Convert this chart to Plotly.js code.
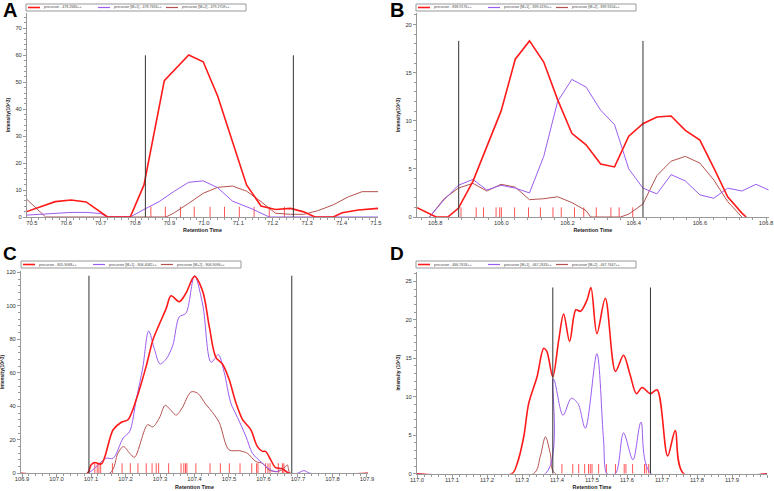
<!DOCTYPE html>
<html><head><meta charset="utf-8">
<script src="https://cdn.plot.ly/plotly-3.0.1.min.js"></script>
<style>html,body{margin:0;padding:0;background:#fff}#chart{width:774px;height:491px}</style>
</head><body><div id="chart"></div>
<script>
// ---------- Panel A ----------
const aNames = ["precursor - 478.2680++", "precursor [M+1] - 478.7694++", "precursor [M+2] - 479.2709++"];
const aPrecX = [70.485, 70.568, 70.614, 70.658, 70.72, 70.786, 70.826, 70.885, 70.956, 70.998, 71.04, 71.083, 71.124, 71.166, 71.208, 71.252, 71.29, 71.323, 71.376, 71.402, 71.449, 71.506];
const aPrecY = [2.0, 5.7, 6.3, 5.6, 0, 0, 11.9, 50.6, 60.1, 57.6, 44.9, 27.7, 11.9, 4.1, 2.8, 3.2, 1.9, 0, 0, 1.6, 2.6, 3.2];
const aM1X = [70.485, 70.568, 70.614, 70.658, 70.70, 70.72, 70.786, 70.826, 70.87, 70.912, 70.956, 70.998, 71.04, 71.083, 71.14, 71.19, 71.506];
const aM1Y = [0.7, 1.4, 1.7, 1.7, 1.3, 0, 0, 2.8, 5.7, 9.4, 12.9, 13.4, 10.9, 5.9, 3.0, 0, 0];
const aM2X = [70.485, 70.54, 70.89, 70.912, 70.956, 70.998, 71.04, 71.083, 71.124, 71.166, 71.208, 71.252, 71.29, 71.33, 71.376, 71.42, 71.46, 71.506];
const aM2Y = [6.6, 0, 0, 1.4, 5.1, 8.8, 11.0, 11.5, 9.6, 5.7, 1.4, 1.0, 1.0, 2.3, 4.5, 7.5, 9.4, 9.4];
const aBounds = [70.83, 71.26];
const aBoundTop = 60;
const aScans = [70.846, 70.888, 70.932, 70.972, 71.018, 71.06, 71.103, 71.146, 71.19, 71.234];
const aScanH = 3.8;

// ---------- Panel B ----------
const bNames = ["precursor - 838.9176++", "precursor [M+1] - 839.4190++", "precursor [M+2] - 839.9204++"];
const bPrecX = [105.745, 105.803, 105.838, 105.87, 105.914, 105.956, 105.999, 106.042, 106.085, 106.128, 106.17, 106.213, 106.256, 106.3, 106.342, 106.385, 106.428, 106.47, 106.513, 106.556, 106.6, 106.642, 106.684, 106.727, 106.74];
const bPrecY = [0.97, 0, 0, 0.9, 3.7, 7.3, 11.0, 16.4, 18.3, 16.1, 12.2, 8.7, 7.5, 5.5, 5.2, 8.4, 9.7, 10.4, 10.5, 9.0, 8.0, 5.1, 2.1, 0.4, 0];
const bM1X = [105.783, 105.827, 105.87, 105.914, 105.956, 105.999, 106.042, 106.085, 106.128, 106.17, 106.213, 106.256, 106.3, 106.342, 106.385, 106.428, 106.47, 106.513, 106.556, 106.6, 106.642, 106.684, 106.727, 106.77, 106.808];
const bM1Y = [0, 1.8, 3.3, 3.9, 2.8, 3.3, 3.0, 2.5, 6.3, 12.0, 14.3, 13.5, 11.1, 9.6, 5.0, 3.0, 2.4, 4.4, 3.75, 2.3, 1.95, 3.0, 2.7, 3.4, 2.8];
const bM2X = [105.783, 105.827, 105.87, 105.914, 105.956, 105.999, 106.042, 106.085, 106.128, 106.17, 106.213, 106.256, 106.27, 106.36, 106.385, 106.428, 106.47, 106.513, 106.556, 106.6, 106.642, 106.684, 106.727];
const bM2Y = [0, 1.9, 3.0, 3.5, 2.7, 3.4, 3.1, 1.8, 1.9, 2.1, 1.5, 0.66, 0, 0, 0.3, 1.35, 4.3, 5.8, 6.3, 5.6, 3.85, 1.6, 0];
const bBounds = [105.871, 106.428];
const bBoundTop = 18.3;
const bScans = [105.878, 105.924, 105.946, 105.984, 105.995, 106.0, 106.04, 106.082, 106.118, 106.156, 106.181, 106.221, 106.249, 106.287, 106.331, 106.356, 106.397];
const bScanH = 1.0;

// ---------- Panel C ----------
const cNames = ["precursor - 805.9068++", "precursor [M+1] - 806.4082++", "precursor [M+2] - 806.9096++"];
const cPrecX = [106.897, 107.089, 107.1, 107.111, 107.13, 107.164, 107.188, 107.207, 107.231, 107.26, 107.28, 107.298, 107.318, 107.332, 107.356, 107.375, 107.4, 107.424, 107.443, 107.462, 107.481, 107.5, 107.52, 107.539, 107.563, 107.582, 107.597, 107.606, 107.621, 107.635, 107.654, 107.674, 107.903];
const cPrecY = [0, 0, 5, 6.4, 5.6, 26, 30.5, 32, 44, 64, 80, 89, 98.5, 106, 102.5, 107.5, 117.6, 108.5, 87.4, 69.3, 65.3, 56.3, 42.2, 32.2, 26.1, 16.1, 13.1, 13.1, 8, 3.4, 2.8, 0, 0];
const cM1X = [106.897, 107.089, 107.125, 107.143, 107.164, 107.193, 107.212, 107.231, 107.25, 107.267, 107.284, 107.3, 107.318, 107.337, 107.356, 107.375, 107.4, 107.424, 107.448, 107.469, 107.486, 107.505, 107.525, 107.549, 107.568, 107.597, 107.621, 107.64, 107.653, 107.676, 107.698, 107.717, 107.736, 107.903];
const cM1Y = [0, 0, 6, 9, 9, 21, 25, 44, 63, 85, 74, 65.3, 68.3, 76.4, 93.5, 95.5, 118, 100.5, 66.3, 70.8, 60.3, 42.2, 33.2, 22.1, 12, 6, 2, 1, 3, 0, 0, 1.6, 0, 0];
const cM2X = [106.897, 107.154, 107.178, 107.194, 107.212, 107.226, 107.264, 107.279, 107.298, 107.315, 107.329, 107.347, 107.364, 107.39, 107.409, 107.433, 107.453, 107.472, 107.5, 107.53, 107.553, 107.578, 107.597, 107.616, 107.635, 107.654, 107.669, 107.678, 107.903];
const cM2Y = [0, 0, 12, 16, 12, 9.6, 29, 27.7, 33, 40.6, 38.2, 34.8, 39, 48.6, 47.8, 41.2, 36.2, 30.2, 14, 13.5, 12, 7, 6, 2, 1, 2, 5, 0, 0];
const cBounds = [107.094, 107.682];
const cBoundTop = 118;
const cScans = [107.111, 107.118, 107.123, 107.128, 107.162, 107.19, 107.214, 107.236, 107.26, 107.277, 107.289, 107.296, 107.325, 107.361, 107.369, 107.374, 107.378, 107.404, 107.445, 107.475, 107.501, 107.532, 107.566, 107.58, 107.584, 107.606, 107.613, 107.619, 107.643, 107.655, 107.659];
const cScanH = 6;

// ---------- Panel D ----------
const dNames = ["precursor - 466.7618++", "precursor [M+1] - 467.2633++", "precursor [M+2] - 467.7647++"];
const dPrecX = [117.0, 117.271, 117.286, 117.305, 117.319, 117.343, 117.362, 117.371, 117.388, 117.405, 117.419, 117.436, 117.454, 117.467, 117.486, 117.497, 117.514, 117.538, 117.567, 117.59, 117.608, 117.627, 117.643, 117.667, 117.686, 117.716, 117.738, 117.762, 118.0];
const dPrecY = [0, 0, 1.3, 4.8, 9.1, 12.6, 16.3, 15.9, 12.6, 17.4, 20.75, 17.2, 21.3, 21.1, 22.6, 24.2, 18.2, 22.8, 13.3, 15.4, 13.0, 10.4, 11.2, 10.4, 10.9, 2.3, 5.6, 0, 0];
const dM1X = [117.0, 117.367, 117.39, 117.417, 117.441, 117.46, 117.481, 117.514, 117.533, 117.543, 117.567, 117.59, 117.617, 117.64, 117.669, 118.0];
const dM1Y = [0, 0, 12.3, 7.6, 9.8, 9.1, 5.9, 15.6, 4.4, 0, 0, 5.3, 1.8, 6.7, 0, 0];
const dM2X = [117.0, 117.333, 117.352, 117.367, 117.381, 117.395, 118.0];
const dM2Y = [0, 0, 2.2, 4.8, 2.6, 0, 0];
const dBounds = [117.388, 117.667];
const dBoundTop = 24.2;
const dScans = [117.414, 117.445, 117.462, 117.479, 117.49, 117.495, 117.5, 117.519, 117.541, 117.567, 117.592, 117.597, 117.616, 117.65, 117.655, 117.662];
const dScanH = 1.26;

const colors = ["#ff1a1a", "#9b5cf0", "#b5524f"];
const widths = [1.6, 1.0, 1.0];
const W = 774, H = 491;
const px = v => v / W;
const py = v => 1 - v / H;

const panels = [
  {s:"", label:"A", names:aNames, xs:[aPrecX,aM1X,aM2X], ys:[aPrecY,aM1Y,aM2Y], bounds:aBounds, top:aBoundTop, scans:aScans, sh:aScanH, shape:"linear",
   dom:[27,378], ydom:[217,13], xr:[70.486,71.506], yr:[0,75.7], xd:0.1, x0:70.5, xm:0.02, yd:10, ym:2, leg:[26,4], lab:[1,10.5,20], ytitle:"Intensity(10^3)"},
  {s:"2", label:"B", names:bNames, xs:[bPrecX,bM1X,bM2X], ys:[bPrecY,bM1Y,bM2Y], bounds:bBounds, top:bBoundTop, scans:bScans, sh:bScanH, shape:"linear",
   dom:[417,768.7], ydom:[217,13], xr:[105.745,106.808], yr:[0,21.2], xd:0.2, x0:105.8, xm:0.04, yd:5, ym:1, leg:[416,4], lab:[388,10,20], ytitle:"Intensity(10^3)"},
  {s:"3", label:"C", names:cNames, xs:[cPrecX,cM1X,cM2X], ys:[cPrecY,cM1Y,cM2Y], bounds:cBounds, top:cBoundTop, scans:cScans, sh:cScanH, shape:"spline",
   dom:[21,368], ydom:[473.3,270.7], xr:[106.897,107.903], yr:[0,121], xd:0.1, x0:106.9, xm:0.02, yd:20, ym:4, leg:[21,261], lab:[1,253.5,19], ytitle:"Intensity(10^3)"},
  {s:"4", label:"D", names:dNames, xs:[dPrecX,dM1X,dM2X], ys:[dPrecY,dM1Y,dM2Y], bounds:dBounds, top:dBoundTop, scans:dScans, sh:dScanH, shape:"spline",
   dom:[417,767], ydom:[473.7,271.7], xr:[117.0,118.0], yr:[0,26.25], xd:0.1, x0:117.0, xm:0.02, yd:5, ym:1, leg:[416,261], lab:[388,253.5,19], ytitle:"Intensity (10^3)"}
];

const traces = [];
const shapes = [];
const annotations = [];
const layout = {
  width: W, height: H, margin: {l:0, r:0, t:0, b:0},
  paper_bgcolor: "#fff", plot_bgcolor: "#fff", showlegend: false,
  font: {family: "Liberation Sans, Arial, sans-serif", color: "#333"}
};

panels.forEach(p => {
  const xa = "x" + p.s, ya = "y" + p.s;
  // scan ticks
  const sx = [], sy = [];
  p.scans.forEach(t => { sx.push(t, t, null); sy.push(0, p.sh, null); });
  traces.push({type:"scatter", mode:"lines", x:sx, y:sy, xaxis:xa, yaxis:ya, line:{color:"#ff5555", width:1}, hoverinfo:"skip", showlegend:false});
  // chromatograms (M+2, M+1, precursor on top)
  [2,1,0].forEach(i => {
    traces.push({type:"scatter", mode:"lines", name:p.names[i], x:p.xs[i], y:p.ys[i], xaxis:xa, yaxis:ya,
      line:{color:colors[i], width:widths[i], shape:p.shape, smoothing:0.9}});
  });
  // integration boundaries
  traces.push({type:"scatter", mode:"lines", x:[p.bounds[0],p.bounds[0],null,p.bounds[1],p.bounds[1]], y:[0,p.top,null,0,p.top],
    xaxis:xa, yaxis:ya, line:{color:"#333", width:1}, hoverinfo:"skip", showlegend:false});

  const axCommon = {showline:true, linecolor:"#999", linewidth:1, ticks:"outside", ticklen:3, tickcolor:"#999",
    showgrid:false, zeroline:false, fixedrange:true, tickfont:{size:5.8, color:"#333"}};
  layout["xaxis"+p.s] = Object.assign({}, axCommon, {
    domain:[px(p.dom[0]), px(p.dom[1])], range:p.xr, anchor:ya, dtick:p.xd, tick0:p.x0, tickformat:".1f",
    ticklabelstandoff:-3,
    minor:{ticks:"outside", ticklen:2, tickcolor:"#999", dtick:p.xm, tick0:p.x0},
    title:{text:"Retention Time", font:{size:5.4, weight:"bold", color:"#222"}, standoff:3}
  });
  layout["yaxis"+p.s] = Object.assign({}, axCommon, {
    domain:[py(p.ydom[0]), py(p.ydom[1])], range:p.yr, anchor:xa, dtick:p.yd, tick0:0,
    minor:{ticks:"outside", ticklen:2, tickcolor:"#999", dtick:p.ym, tick0:0},
    title:{text:p.ytitle, font:{size:4.9, weight:"bold", color:"#222"}, standoff:4}
  });

  // panel label
  annotations.push({xref:"paper", yref:"paper", x:px(p.lab[0]), y:py(p.lab[1]), xanchor:"left", yanchor:"middle",
    text:"<b>"+p.label+"</b>", showarrow:false, font:{size:p.lab[2], color:"#000", family:"Liberation Sans, Arial, sans-serif"}});

  // legend box
  const lx = p.leg[0], ly = p.leg[1], lw = 220, lh = 7;
  shapes.push({type:"rect", xref:"paper", yref:"paper", x0:px(lx), x1:px(lx+lw), y0:py(ly), y1:py(ly+lh),
    line:{color:"#999", width:1}, fillcolor:"#fff", layer:"above"});
  const sw = [2, 72, 140], tx = [16, 86, 154];
  [0,1,2].forEach(i => {
    shapes.push({type:"line", xref:"paper", yref:"paper", x0:px(lx+sw[i]), x1:px(lx+sw[i]+12), y0:py(ly+lh/2), y1:py(ly+lh/2),
      line:{color:colors[i], width:i===0?1.6:1.2}, layer:"above"});
    annotations.push({xref:"paper", yref:"paper", x:px(lx+tx[i]), y:py(ly+lh/2), xanchor:"left", yanchor:"middle",
      text:p.names[i], showarrow:false, font:{size:3.6, color:"#444"}});
  });
});

layout.shapes = shapes;
layout.annotations = annotations;
Plotly.newPlot("chart", traces, layout, {displayModeBar:false, staticPlot:true});
</script>
</body></html>
